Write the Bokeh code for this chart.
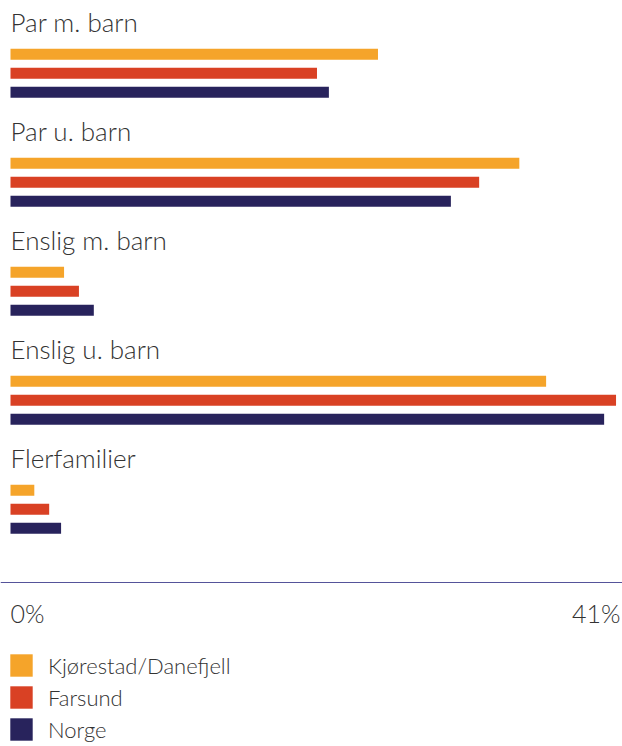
from bokeh.plotting import figure
from bokeh.models import ColumnDataSource, Range1d, Span, Legend, LegendItem
from bokeh.core.properties import value
from bokeh.embed import file_html
from bokeh.resources import INLINE

# ---- data ----
categories = ["Par m. barn", "Par u. barn", "Enslig m. barn", "Enslig u. barn", "Flerfamilier"]
kjorestad = [24.7, 34.2, 3.6, 36.0, 1.6]
farsund = [20.6, 31.5, 4.6, 40.7, 2.6]
norge = [21.4, 29.6, 5.6, 39.9, 3.4]
series_names = ["Kjørestad/Danefjell", "Farsund", "Norge"]
tick_values = [0, 41]
tick_labels = ["0%", "41%"]

# ---- styling / layout ----
colors = ["#F5A42A", "#D94124", "#28235C"]
W, H = 622, 746
x0_px = 10
px_per_unit = 610 / 41.0
FONT = "Lato Light"
TXT = "#333333"

group_pitch = 109
first_center = 53.8
bar_step = 19
bar_h = 11
label_dy = -32.5
axis_y = 582
tick_base = 612

p = figure(width=W, height=H, output_backend="svg", toolbar_location=None,
           x_range=Range1d(-x0_px / px_per_unit, (W - x0_px) / px_per_unit),
           y_range=Range1d(H, 0),
           x_axis_location=None, y_axis_location=None,
           min_border=0, outline_line_color=None)
p.xgrid.visible = False
p.ygrid.visible = False
p.background_fill_color = "white"
p.border_fill_color = "white"

renderers = []
for s, (vals, col) in enumerate(zip([kjorestad, farsund, norge], colors)):
    ys = [first_center + i * group_pitch + s * bar_step for i in range(len(categories))]
    src = ColumnDataSource(dict(y=ys, right=vals, cat=categories))
    r = p.hbar(y="y", left=0, right="right", height=bar_h, source=src,
               fill_color=col, line_color=None)
    renderers.append(r)

# category labels
lab_src = ColumnDataSource(dict(
    x=[0] * len(categories),
    y=[first_center + i * group_pitch + label_dy for i in range(len(categories))],
    t=categories))
p.text(x="x", y="y", text="t", source=lab_src, x_offset=0,
       text_font=value(FONT), text_font_size="26px", text_color=TXT,
       text_baseline="alphabetic", text_align="left")

# axis line
p.add_layout(Span(location=axis_y, dimension="width", line_color="#55539A", line_width=1))

# tick labels
p.text(x=[tick_values[0]], y=[tick_base], text=[tick_labels[0]], x_offset=0,
       text_font=value(FONT), text_font_size="25px", text_color=TXT,
       text_baseline="alphabetic", text_align="left")
p.text(x=[tick_values[1]], y=[tick_base], text=[tick_labels[1]],
       text_font=value(FONT), text_font_size="25px", text_color=TXT,
       text_baseline="alphabetic", text_align="right")

# legend
legend = Legend(items=[LegendItem(label=n, renderers=[r]) for n, r in zip(series_names, renderers)],
                location=(7, 3), orientation="vertical",
                glyph_width=28, glyph_height=28, label_height=28,
                spacing=4, padding=0, margin=0, label_standoff=13,
                label_text_font=FONT, label_text_font_size="22px",
                label_text_color=TXT, border_line_color=None,
                background_fill_alpha=0)
p.add_layout(legend, "center")

open("out.html", "w").write(file_html(p, INLINE))
